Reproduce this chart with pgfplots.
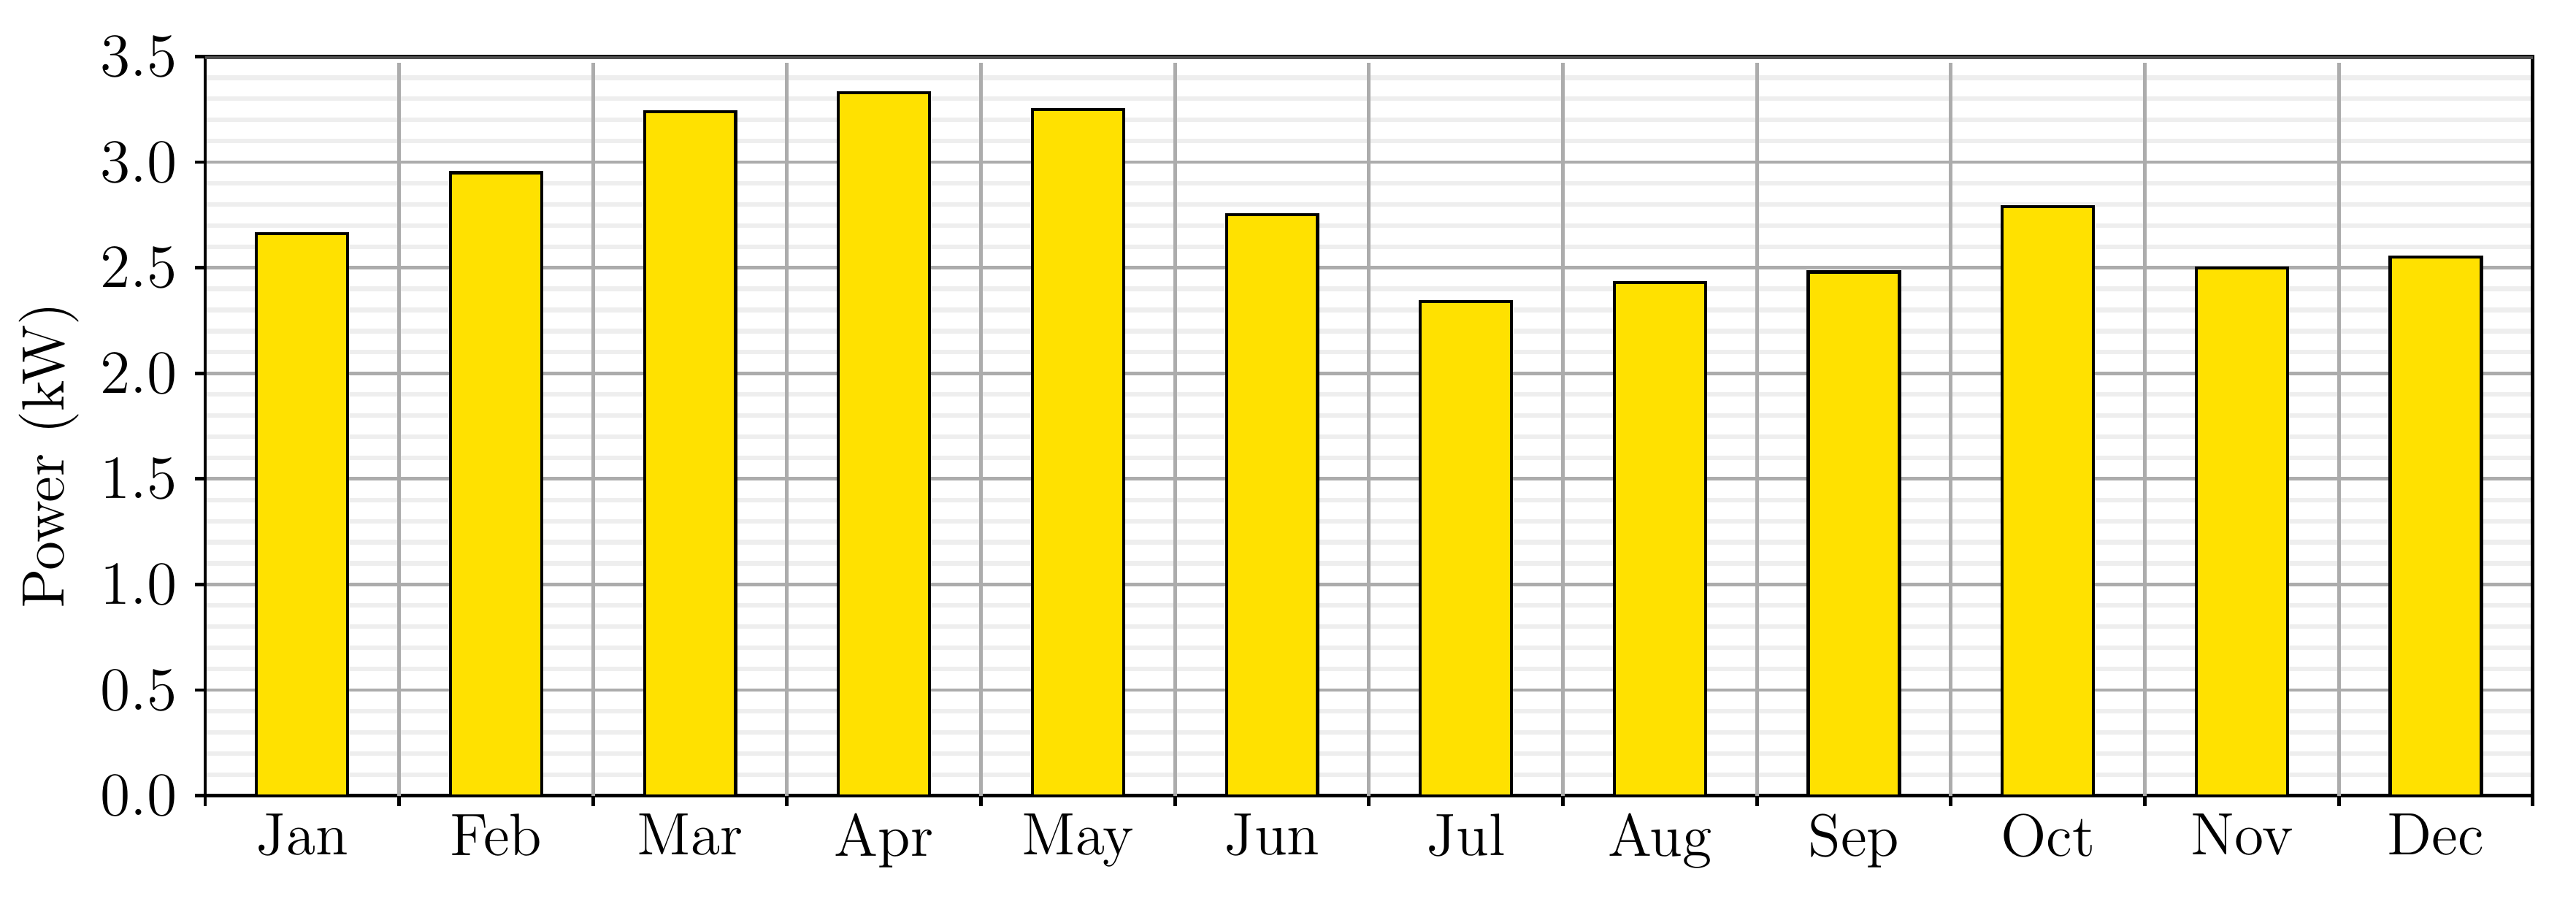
\documentclass[border=0pt]{standalone}
\usepackage{pgfplots}
\pgfplotsset{compat=1.18}
\definecolor{baryellow}{RGB}{255,225,0}
\definecolor{majgrid}{RGB}{172,172,172}
\definecolor{mingrid}{RGB}{238,238,238}
\definecolor{topframe}{RGB}{80,80,80}
\begin{document}
\begin{tikzpicture}
\begin{axis}[
  at={(0,0)}, anchor=south west,
  scale only axis, width=455.4pt, height=144.6pt,
  ybar, bar width=0.47,
  xmin=-0.5, xmax=11.5, ymin=0, ymax=3.5,
  xtick={-0.5,0.5,...,11.5}, xticklabels={},
  extra x ticks={0,1,2,3,4,5,6,7,8,9,10,11},
  extra x tick labels={Jan,Feb,Mar,Apr,May,Jun,Jul,Aug,Sep,Oct,Nov,Dec},
  extra x tick style={grid=none, major tick length=0pt},
  ytick={0,0.5,1,1.5,2,2.5,3,3.5},
  yticklabel style={/pgf/number format/.cd, fixed, fixed zerofill, precision=1},
  minor y tick num=4,
  ymajorgrids, yminorgrids,
  major grid style={majgrid, line width=0.7pt},
  minor grid style={mingrid, line width=0.9pt},
  tick align=outside, major tick length=2pt, minor tick length=0pt,
  tick pos=left,
  tick style={black, line width=0.7pt},
  axis line style={black, line width=0.7pt},
  every tick label/.append style={font=\fontsize{11.7}{14}\selectfont},
  ylabel={Power (kW)},
  every axis y label/.style={at={(axis description cs:-0.0672,0.46)}, rotate=90, anchor=center, font=\fontsize{11.7}{14}\selectfont},
]
\pgfplotsinvokeforeach{0.5,1.5,2.5,3.5,4.5,5.5,6.5,7.5,8.5,9.5,10.5}{
  \draw[majgrid, line width=0.7pt] (axis cs:#1,0) -- (axis cs:#1,3.47);
}
\addplot[fill=baryellow, draw=black, line width=0.6pt] coordinates {
  (0,2.66) (1,2.95) (2,3.24) (3,3.33) (4,3.25) (5,2.75)
  (6,2.34) (7,2.43) (8,2.48) (9,2.79) (10,2.50) (11,2.55)
};
\draw[topframe, line width=1.1pt] (rel axis cs:0,1) -- (rel axis cs:1,1);
\end{axis}
\pgfresetboundingbox
\path[use as bounding box] (-40.14pt,-21.06pt) rectangle (463.86pt,155.66pt);
\end{tikzpicture}
\end{document}
